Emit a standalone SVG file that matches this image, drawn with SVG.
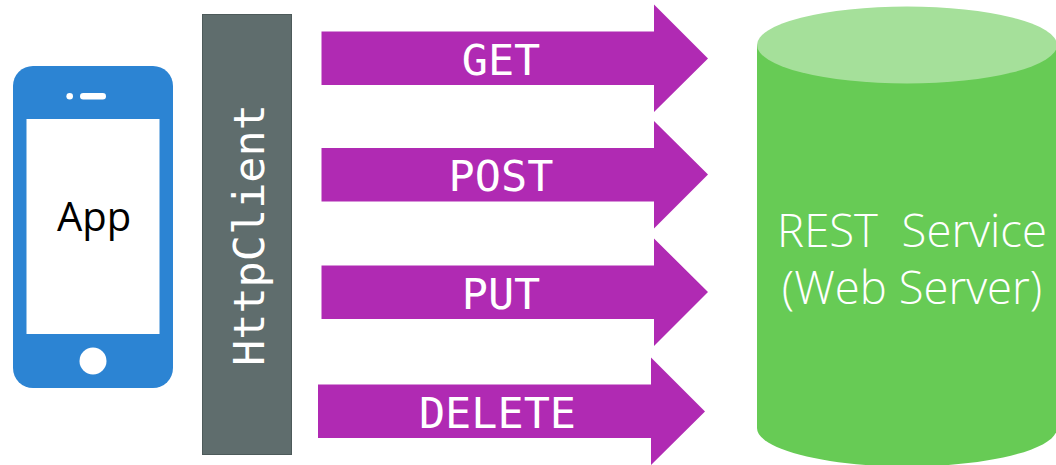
<svg xmlns="http://www.w3.org/2000/svg" width="1056" height="465" viewBox="0 0 1056 465">
<style>
.arrow{fill:#b02ab3}
.m{font-family:"DejaVu Sans Mono","Liberation Mono",monospace;font-size:43.500px;fill:#fff;text-anchor:middle}
.s{font-family:"Open Sans","Noto Sans",sans-serif;font-weight:300;font-size:45.500px;fill:#fff;text-anchor:middle}
</style>
<rect width="1056" height="465" fill="#fff"/>
<g id="app">
<rect x="13" y="66" width="160" height="322" rx="20" fill="#2c84d3"/>
<rect x="26.500" y="119" width="133" height="215" fill="#fff"/>
<circle cx="69.700" cy="96.300" r="3.300" fill="#fff"/>
<rect x="80" y="93" width="26" height="6.500" rx="3.250" fill="#fff"/>
<circle cx="93" cy="361" r="13.500" fill="#fff"/>
<text x="94" y="231" font-family="Open Sans,Noto Sans,sans-serif" font-size="40" text-anchor="middle" fill="#000">App</text>
</g>
<g id="httpclient">
<rect x="202.500" y="14.500" width="89" height="440" fill="#5f6d6d" stroke="#4d5a5a" stroke-width="1"/>
<text class="m" transform="translate(264,235) rotate(-90)">HttpClient</text>
</g>
<g id="connectors">
<g id="get"><polygon class="arrow" points="321.500,31.500 654,31.500 654,4.500 708,58.500 654,112 654,85 321.500,85"/><text class="m" x="501" y="75">GET</text></g>
<g id="post"><polygon class="arrow" points="321.500,148 654,148 654,121 708,174.500 654,228.500 654,201.500 321.500,201.500"/><text class="m" x="501" y="191">POST</text></g>
<g id="put"><polygon class="arrow" points="321.500,265.500 654,265.500 654,238.500 708,292 654,346 654,319 321.500,319"/><text class="m" x="501" y="309">PUT</text></g>
<g id="delete"><polygon class="arrow" points="318,384.500 651,384.500 651,357.500 705,411.500 651,465 651,438 318,438"/><text class="m" x="497.500" y="428">DELETE</text></g>
</g>
<g id="rest-service">
<path d="M757 45V428C757 449 824 466.500 907 466.500S1057 449 1057 428V45Z" fill="#67cb55"/>
<ellipse cx="907" cy="45" rx="150" ry="38.500" fill="#a5e09a"/>
<text class="s" x="912" y="246.500" xml:space="preserve">REST  Service</text>
<text class="s" x="912" y="304">(Web Server)</text>
</g>
</svg>
